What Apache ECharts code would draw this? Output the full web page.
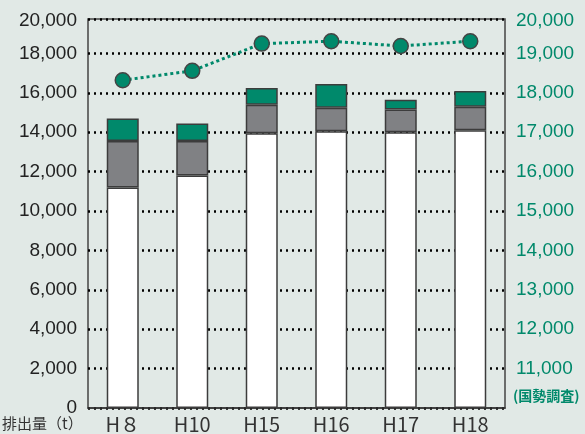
<!DOCTYPE html>
<html>
<head>
<meta charset="utf-8">
<script src="https://cdn.jsdelivr.net/npm/echarts@6/dist/echarts.min.js"></script>
<style>
html, body { margin: 0; padding: 0; background: #e1e9e6; }
#chart { width: 585px; height: 434px; }
</style>
</head>
<body>
<div id="chart"></div>
<script>
var categories = ['H８', 'H10', 'H15', 'H16', 'H17', 'H18'];
// 排出量 (t) の内訳
var whitePart = [11200, 11800, 13950, 14050, 14000, 14100];
var greyPart = [2350, 1750, 1450, 1200, 1150, 1200];
var greenPart = [1150, 900, 850, 1200, 500, 800];
// 人口 (国勢調査)
var population = [18320, 18560, 19250, 19310, 19190, 19310];

var green = '#00896b';
var grey = '#808184';
var edge = '#3c3c3c';

function comma(v) {
    return String(v).replace(/\B(?=(\d{3})+(?!\d))/g, ',');
}

var barStyle = function (c) {
    return { color: c, borderColor: edge, borderWidth: 1.5 };
};

// the frame sits a little below the 20,000 line
var leftMax = 19750;
var rightMax = 10000 + leftMax / 2;

var option = {
    backgroundColor: '#e1e9e6',
    animation: false,
    grid: {
        left: 88,
        right: 80,
        top: 19,
        bottom: 24,
        show: true,
        borderColor: '#444',
        borderWidth: 1.5,
        backgroundColor: 'transparent'
    },
    xAxis: {
        type: 'category',
        data: categories,
        axisLine: { lineStyle: { color: '#333', width: 1.5 } },
        axisTick: { inside: true, length: 17, lineStyle: { color: '#222', width: 2 } },
        axisLabel: {
            color: '#333',
            fontSize: 20,
            margin: 6,
            fontFamily: 'Noto Sans CJK JP'
        }
    },
    yAxis: [
        {
            type: 'value',
            min: 0,
            max: leftMax,
            interval: 2000,
            axisLine: { show: false },
            axisTick: { show: false },
            axisLabel: {
                color: '#222',
                fontSize: 19,
                margin: 11,
                padding: [6, 0, 0, 0],
                fontFamily: 'Liberation Sans',
                formatter: function (v) { return v % 2000 === 0 ? comma(v) : ''; }
            },
            splitLine: { lineStyle: { color: '#000', width: 2.5, type: [2, 4] } }
        },
        {
            type: 'value',
            min: 10000,
            max: rightMax,
            interval: 1000,
            axisLine: { show: false },
            axisTick: { show: false },
            splitLine: { show: false },
            axisLabel: {
                color: green,
                fontSize: 19,
                margin: 11,
                padding: [6, 0, 0, 0],
                fontFamily: 'Liberation Sans',
                formatter: function (v) { return (v === 10000 || v % 1000 !== 0) ? '' : comma(v); }
            }
        }
    ],
    graphic: [
        {
            type: 'text',
            right: 585 - 77,
            top: 11,
            style: { text: '20,000', fill: '#222', font: '19px "Liberation Sans"' }
        },
        {
            type: 'text',
            left: 516,
            top: 11,
            style: { text: '20,000', fill: green, font: '19px "Liberation Sans"' }
        },
        {
            type: 'text',
            left: 2,
            top: 416,
            style: { text: '排出量（t）', fill: '#333', font: '15px "Noto Sans CJK JP"' }
        },
        {
            type: 'text',
            left: 513,
            top: 389,
            style: { text: '(国勢調査)', fill: green, font: 'bold 14px "Noto Sans CJK JP"' }
        }
    ],
    series: [
        { type: 'bar', stack: 'a', barWidth: 32, data: whitePart, itemStyle: barStyle('#ffffff') },
        { type: 'bar', stack: 'a', barWidth: 32, data: greyPart, itemStyle: barStyle(grey) },
        { type: 'bar', stack: 'a', barWidth: 32, data: greenPart, itemStyle: barStyle(green) },
        {
            type: 'line',
            yAxisIndex: 1,
            data: population,
            symbol: 'circle',
            symbolSize: 15,
            z: 5,
            lineStyle: { color: green, width: 3, type: [3, 3] },
            itemStyle: { color: green, borderColor: '#444', borderWidth: 1.5 }
        }
    ]
};

var chart = echarts.init(document.getElementById('chart'));
chart.setOption(option);
</script>
</body>
</html>
